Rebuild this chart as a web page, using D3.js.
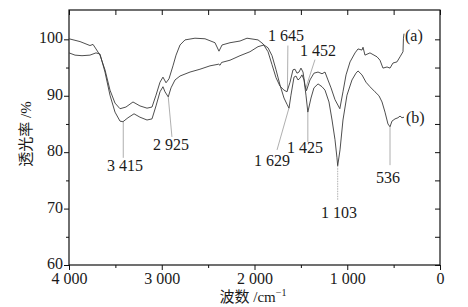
<!DOCTYPE html>
<html lang="zh">
<head>
<meta charset="utf-8">
<title>FTIR spectra</title>
<script src="https://d3js.org/d3.v7.min.js"></script>
<style>
  body { margin: 0; background: #fff; }
  .axis text, .label, .peak {
    font-family: "Liberation Serif", "Times New Roman", "DejaVu Serif", "Noto Sans CJK SC", serif;
    fill: #1a1a1a;
  }
  .axis text { font-size: 16px; }
  .axis line { stroke: #111; stroke-width: 1; }
  .curve { fill: none; stroke: #3a3a3a; stroke-width: 0.9; }
  .leader { stroke: #9a9a9a; stroke-width: 0.8; }
  .peak { font-size: 16px; text-anchor: middle; }
</style>
</head>
<body>
<div id="chart"></div>
<script>
// curve (a): [wavenumber, transmittance]
const curveA = [
  [4000,100.1],[3881,99.6],[3774,98.9],[3741,99.1],[3709,98.3],[3666,97.2],
  [3612,94.6],[3558,91.0],[3504,88.7],[3450,87.7],[3386,88.0],[3310,88.9],
  [3235,88.2],[3159,87.8],[3105,88.0],[3062,90.1],[3019,92.4],[2987,93.3],
  [2954,92.3],[2922,93.0],[2879,95.3],[2846,97.2],[2803,99.0],[2749,99.9],
  [2642,100.2],[2534,100.1],[2426,99.4],[2383,97.9],[2350,99.0],[2264,99.4],
  [2156,99.7],[2081,100.2],[1962,99.9],[1908,99.2],[1854,97.8],[1811,95.5],
  [1768,93.2],[1725,91.7],[1682,91.0],[1650,90.7],[1617,92.4],[1585,94.6],
  [1563,94.7],[1542,94.0],[1520,94.2],[1499,94.9],[1477,94.2],[1456,91.9],
  [1440,90.9],[1402,92.8],[1359,94.0],[1315,94.2],[1272,93.9],[1240,94.2],
  [1208,92.8],[1175,91.4],[1132,89.3],[1080,87.7],[1046,90.7],[1013,93.7],
  [970,96.0],[916,97.6],[884,98.3],[841,98.1],[830,98.6],[809,97.2],
  [755,97.6],[679,96.9],[647,96.3],[615,94.9],[571,95.1],[539,94.9],
  [507,95.8],[464,96.0],[431,96.9],[399,97.8],[394,100.2],[388,101.0]
];

// curve (b)
const curveB = [
  [4000,97.6],[3935,97.2],[3860,97.1],[3774,97.2],[3709,97.6],[3666,97.4],
  [3612,94.2],[3558,90.1],[3504,87.1],[3450,85.5],[3418,85.4],[3364,86.1],
  [3299,86.8],[3235,86.2],[3159,85.7],[3105,85.9],[3062,88.2],[3019,90.7],
  [2987,91.6],[2965,90.7],[2930,89.8],[2900,91.4],[2857,92.8],[2803,93.5],
  [2695,94.2],[2588,94.7],[2480,95.3],[2385,95.6],[2372,95.4],[2355,95.9],
  [2264,96.3],[2156,97.1],[2049,97.8],[1962,98.7],[1898,99.0],[1854,98.5],
  [1811,97.1],[1768,94.6],[1725,91.9],[1682,89.6],[1650,88.5],[1628,87.8],
  [1607,90.1],[1574,93.3],[1553,93.5],[1531,92.8],[1510,93.1],[1488,93.7],
  [1466,92.8],[1445,90.1],[1425,87.1],[1391,89.6],[1359,91.4],[1315,92.1],
  [1272,91.6],[1240,91.0],[1197,88.9],[1164,85.7],[1132,82.2],[1111,79.0],
  [1103,77.6],[1078,80.4],[1046,85.7],[1003,90.1],[949,92.8],[906,94.0],
  [884,94.4],[841,93.7],[798,92.4],[755,91.6],[701,90.7],[658,90.0],
  [625,88.9],[593,87.1],[561,85.0],[539,84.5],[518,85.5],[485,85.9],
  [453,86.1],[431,86.4],[410,86.1],[388,86.2]
];

// peak annotations: wavenumber on curve, leader end, label position (data units)
const peaks = [
  { text: "3 415", wn: 3415, from: 85.4, to: [3415, 79.0], at: [3397, 76.7] },
  { text: "2 925", wn: 2930, from: 89.8, to: [2890, 82.7], at: [2900, 80.4] },
  { text: "1 645", wn: 1645, from: 90.8, to: [1640, 98.9], at: [1660, 99.7] },
  { text: "1 629", wn: 1629, from: 87.8, to: [1757, 80.4], at: [1811, 77.6] },
  { text: "1 452", wn: 1450, from: 91.2, to: [1348, 96.4], at: [1315, 97.1] },
  { text: "1 425", wn: 1425, from: 87.1, to: [1425, 81.8], at: [1456, 79.9] },
  { text: "1 103", wn: 1103, from: 77.6, to: [1103, 71.5], at: [1089, 68.3], dotted: true },
  { text: "536",   wn: 539,  from: 84.5, to: [539, 77.7],  at: [561, 74.5] }
];

const seriesLabels = [
  { text: "(a)", at: [377, 99.7] },
  { text: "(b)", at: [367, 85.2] }
];

const xTicks = [4000, 3000, 2000, 1000, 0];
const xTickText = ["4 000", "3 000", "2 000", "1 000", "0"];
const xMinor = [3500, 2500, 1500, 500];
const yTicks = [60, 70, 80, 90, 100];
const yMinor = [65, 75, 85, 95];

const W = 468, H = 307;
const pLeft = 69, pRight = 440, pTop = 10, pBottom = 265;

const x = d3.scaleLinear().domain([4000, 0]).range([pLeft, pRight]);
const y = d3.scaleLinear().domain([60, 105.2]).range([pBottom, pTop]);

const svg = d3.select("#chart").append("svg")
  .attr("width", W).attr("height", H);

// bottom axis
svg.append("g").attr("class", "axis")
  .attr("transform", "translate(0," + pBottom + ")")
  .call(d3.axisBottom(x).tickValues(xTicks).tickSize(5).tickSizeOuter(0).tickPadding(3)
    .tickFormat((d, i) => xTickText[i]))
  .call(g => g.select(".domain").remove());
svg.append("g").attr("class", "axis")
  .attr("transform", "translate(0," + pBottom + ")")
  .call(d3.axisBottom(x).tickValues(xMinor).tickSize(3).tickFormat(""))
  .call(g => g.select(".domain").remove());

// top axis (inward)
svg.append("g").attr("class", "axis")
  .attr("transform", "translate(0," + pTop + ")")
  .call(d3.axisTop(x).tickValues(xTicks.concat(xMinor)).tickSize(-5).tickFormat(""))
  .call(g => g.select(".domain").remove());

// left axis
svg.append("g").attr("class", "axis")
  .attr("transform", "translate(" + pLeft + ",0)")
  .call(d3.axisLeft(y).tickValues(yTicks).tickSize(5).tickPadding(1))
  .call(g => g.select(".domain").remove())
  .call(g => g.selectAll("text").attr("dy", "0.22em"));
svg.append("g").attr("class", "axis")
  .attr("transform", "translate(" + pLeft + ",0)")
  .call(d3.axisLeft(y).tickValues(yMinor).tickSize(3).tickFormat(""))
  .call(g => g.select(".domain").remove());

// right axis (inward)
svg.append("g").attr("class", "axis")
  .attr("transform", "translate(" + pRight + ",0)")
  .call(d3.axisRight(y).tickValues(yTicks.concat(yMinor)).tickSize(-5).tickFormat(""))
  .call(g => g.select(".domain").remove());

// frame
svg.append("rect")
  .attr("x", pLeft).attr("y", pTop)
  .attr("width", pRight - pLeft).attr("height", pBottom - pTop)
  .attr("fill", "none").attr("stroke", "#111").attr("stroke-width", 1.2);

// leaders
svg.selectAll(".leader").data(peaks).join("line")
  .attr("class", "leader")
  .attr("x1", d => x(d.wn)).attr("y1", d => y(d.from))
  .attr("x2", d => x(d.to[0])).attr("y2", d => y(d.to[1]))
  .attr("stroke-dasharray", d => d.dotted ? "1.5,1" : null);

// curves
const line = d3.line().x(d => x(d[0])).y(d => y(d[1]));
svg.append("path").datum(curveA).attr("class", "curve").attr("d", line);
svg.append("path").datum(curveB).attr("class", "curve").attr("d", line);

// peak labels
svg.selectAll(".peak-label").data(peaks).join("text")
  .attr("class", "peak peak-label")
  .attr("x", d => x(d.at[0])).attr("y", d => y(d.at[1]))
  .text(d => d.text);

svg.selectAll(".series").data(seriesLabels).join("text")
  .attr("class", "peak series")
  .style("text-anchor", "start")
  .attr("x", d => x(d.at[0])).attr("y", d => y(d.at[1]))
  .text(d => d.text);

// axis titles
svg.append("text")
  .attr("class", "label")
  .attr("transform", "translate(31,134) rotate(-90)")
  .style("text-anchor", "middle")
  .style("font-size", "15px")
  .text("透光率 /%");

const xt = svg.append("text")
  .attr("class", "label")
  .attr("x", 253).attr("y", 302)
  .style("text-anchor", "middle")
  .style("font-size", "15px");
xt.append("tspan").text("波数 /cm");
xt.append("tspan").attr("dy", -6).style("font-size", "10px").text("−1");
</script>
</body>
</html>
